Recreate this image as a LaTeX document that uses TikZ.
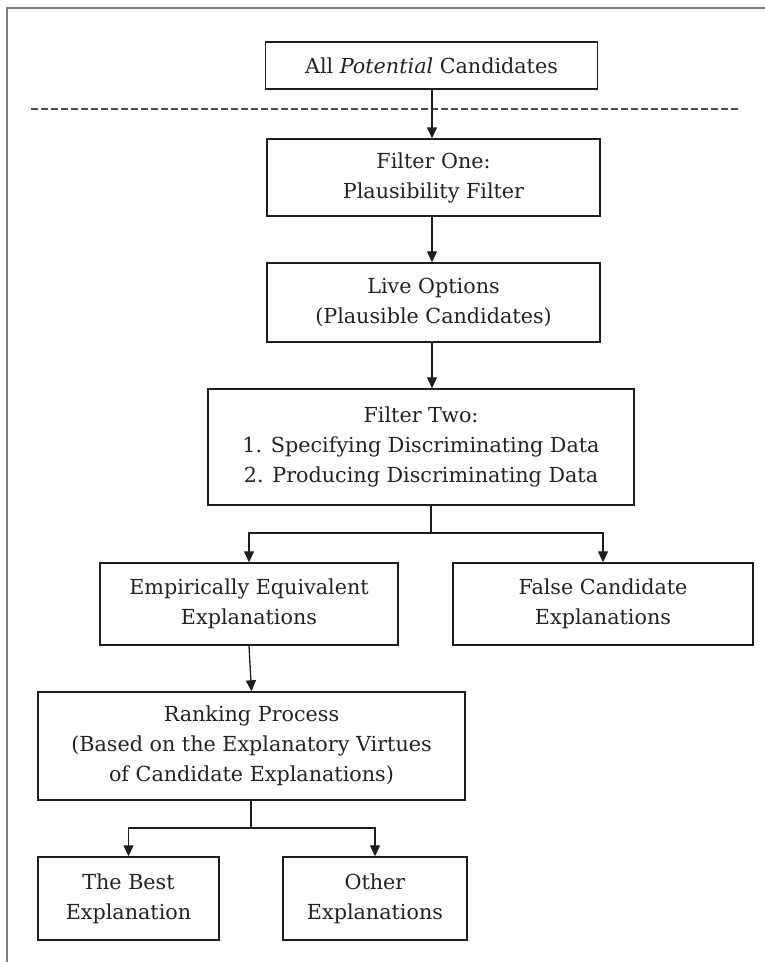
\documentclass[tikz,border=0pt]{standalone}
\usepackage{fontspec}
\setmainfont{DejaVu Serif}
\usetikzlibrary{arrows.meta,calc}
\definecolor{ink}{HTML}{1E1E1E}
\definecolor{txt}{HTML}{222222}
\begin{document}
\begin{tikzpicture}[x=1pt,y=-1pt,
  box/.style={draw=ink, line width=1.4pt, align=center, inner sep=0pt,
    text=txt, font=\fontsize{20.7}{30}\selectfont},
  arr/.style={draw=ink, line width=1.3pt, -{Triangle[length=11pt,width=10pt]}},
  plain/.style={draw=ink, line width=1.3pt}]
\useasboundingbox (0,0) rectangle (765,962);
\draw[gray, line width=1.5pt] (7,962) -- (7,8) -- (765,8);
\draw[black!70, line width=1.2pt, dash pattern=on 6.5pt off 3.5pt] (31,109) -- (740,109);
\node[box, minimum width=332pt, minimum height=47pt] (b1) at (431.5,65.5) {All \textit{Potential} Candidates};
\node[box, minimum width=333pt, minimum height=77pt] (b2) at (433.5,177.5) {Filter One:\\Plausibility Filter};
\node[box, minimum width=333pt, minimum height=79pt] (b3) at (433.5,302.5) {Live Options\\(Plausible Candidates)};
\node[box, minimum width=426pt, minimum height=116pt] (b4) at (421,447) {Filter Two:\\1. Specifying Discriminating Data\\2. Producing Discriminating Data};
\node[box, minimum width=298pt, minimum height=82pt] (b5) at (249,604) {Empirically Equivalent\\Explanations};
\node[box, minimum width=300pt, minimum height=82pt] (b6) at (603,604) {False Candidate\\Explanations};
\node[box, minimum width=427pt, minimum height=108pt] (b7) at (251.5,746) {Ranking Process\\(Based on the Explanatory Virtues\\of Candidate  Explanations)};
\node[box, minimum width=181pt, minimum height=83pt] (b8) at (128.5,898.5) {The Best\\Explanation};
\node[box, minimum width=184pt, minimum height=83pt] (b9) at (375,898.5) {Other\\Explanations};
\coordinate (j0) at (432,0);
\coordinate (j1) at (431,533);
\coordinate (j2) at (251,828);
\draw[arr] (b1.south -| j0) -- (b2.north -| j0);
\draw[arr] (b2.south -| j0) -- (b3.north -| j0);
\draw[arr] (b3.south -| j0) -- (b4.north -| j0);
\draw[plain] (b4.south -| j1) -- (j1);
\draw[arr] (j1) -| (b5.north);
\draw[arr] (j1) -| (b6.north);
\draw[arr] (b5.south) -- (b7.north);
\draw[draw=ink, line width=2.4pt] (b7.south -| j2) -- (j2);
\draw[arr] (j2) -| (b8.north);
\draw[arr] (j2) -| (b9.north);
\end{tikzpicture}
\end{document}
